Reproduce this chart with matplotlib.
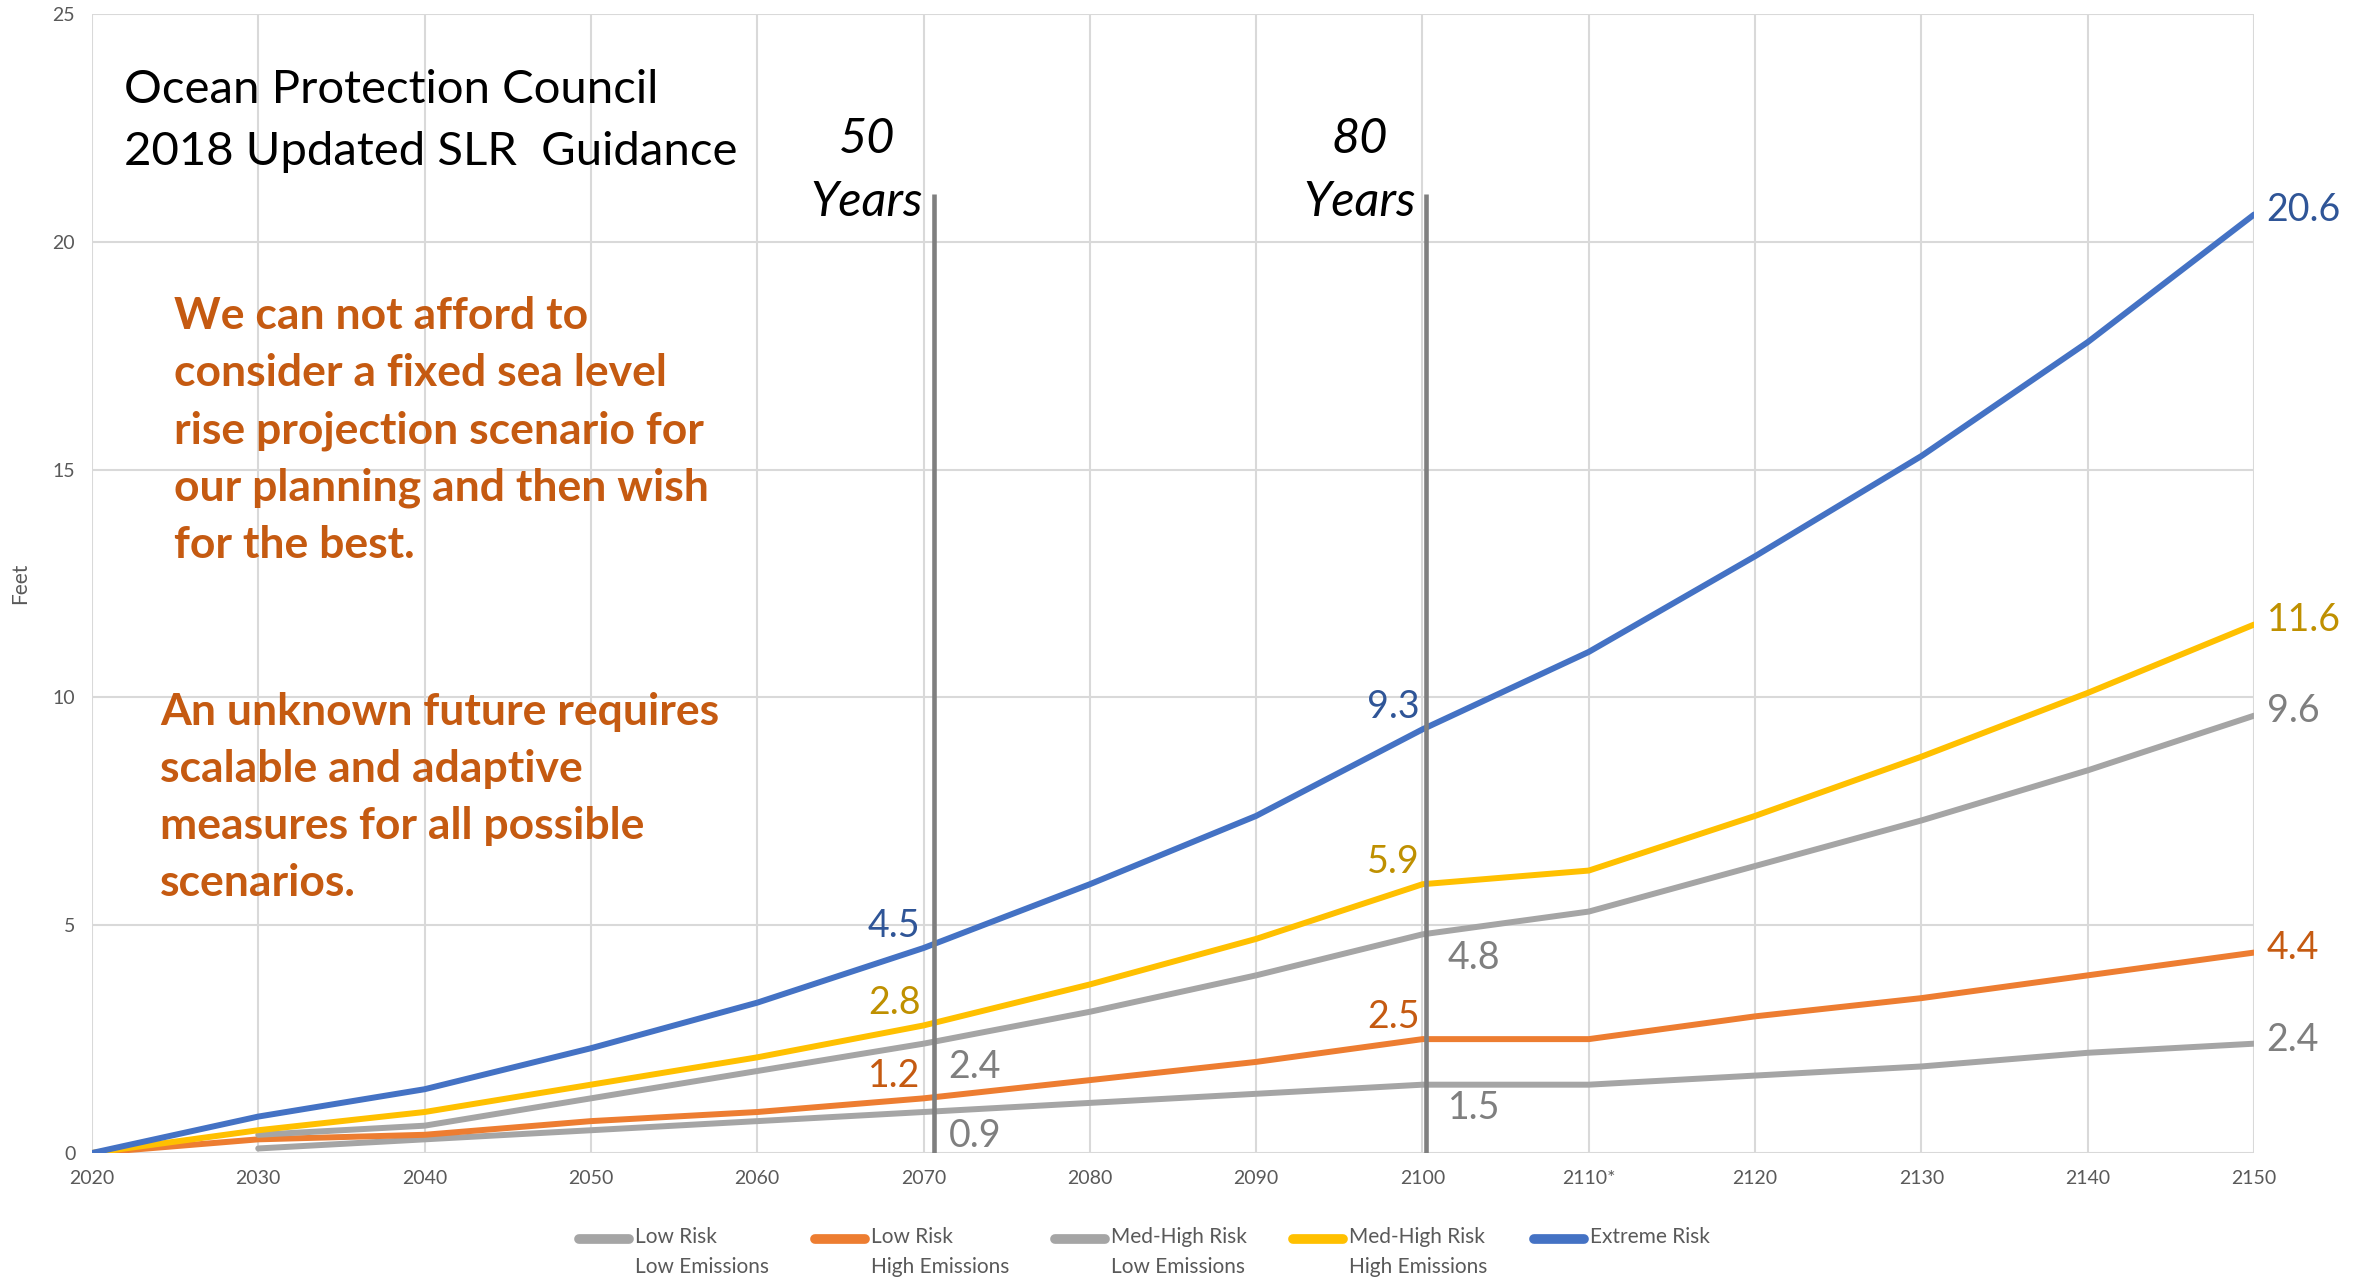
import numpy as np
import matplotlib.pyplot as plt
from matplotlib.lines import Line2D

# Datos (pies de subida del nivel del mar)
years = [2020, 2030, 2040, 2050, 2060, 2070, 2080, 2090, 2100, 2110, 2120, 2130, 2140, 2150]
year_labels = ['2020', '2030', '2040', '2050', '2060', '2070', '2080', '2090', '2100',
               '2110*', '2120', '2130', '2140', '2150']
nan = np.nan
low_low = [nan, 0.1, 0.3, 0.5, 0.7, 0.9, 1.1, 1.3, 1.5, 1.5, 1.7, 1.9, 2.2, 2.4]
low_high = [0, 0.3, 0.4, 0.7, 0.9, 1.2, 1.6, 2.0, 2.5, 2.5, 3.0, 3.4, 3.9, 4.4]
mh_low = [nan, 0.4, 0.6, 1.2, 1.8, 2.4, 3.1, 3.9, 4.8, 5.3, 6.3, 7.3, 8.4, 9.6]
mh_high = [0, 0.5, 0.9, 1.5, 2.1, 2.8, 3.7, 4.7, 5.9, 6.2, 7.4, 8.7, 10.1, 11.6]
extreme = [0, 0.8, 1.4, 2.3, 3.3, 4.5, 5.9, 7.4, 9.3, 11.0, 13.1, 15.3, 17.8, 20.6]

series_names = ['Low Risk\nLow Emissions', 'Low Risk\nHigh Emissions',
                'Med-High Risk\nLow Emissions', 'Med-High Risk\nHigh Emissions', 'Extreme Risk\n ']
series_values = [low_low, low_high, mh_low, mh_high, extreme]
line_colors = ['#A5A5A5', '#ED7D31', '#A5A5A5', '#FFC000', '#4472C4']
label_colors = ['#7F7F7F', '#C55A11', '#7F7F7F', '#BF9000', '#2F5597']
# etiqueta arriba-izquierda (True) o abajo-derecha (False) en 2070 y 2100
label_above = [False, True, False, True, True]

horizons = [2070.6, 2100.2]
horizon_text = ['50\nYears', '80\nYears']

plt.rcParams['font.family'] = ['Lato', 'DejaVu Sans']

fig = plt.figure(figsize=(23.69, 12.79), dpi=100)
ax = fig.add_axes([0.0388, 0.0985, 0.9127, 0.8905])

for vals, col, name in zip(series_values, line_colors, series_names):
    ax.plot(years, vals, color=col, lw=4.3, label=name, zorder=3, solid_capstyle='round')

# Lineas verticales de horizonte
ax.vlines(horizons, 0, 21.05, color='#7F7F7F', lw=3.3, zorder=4)

# Etiquetas de datos
for vals, lc, above in zip(series_values, label_colors, label_above):
    for yr in (2070, 2100):
        i = years.index(yr)
        if above:
            ax.annotate(f'{vals[i]:.1f}', (years[i], vals[i]), xytext=(-2, 16),
                        textcoords='offset points', ha='right', va='center',
                        fontsize=27, color=lc, zorder=5)
        else:
            ax.annotate(f'{vals[i]:.1f}', (years[i], vals[i]), xytext=(18, -17),
                        textcoords='offset points', ha='left', va='center',
                        fontsize=27, color=lc, zorder=5)
    ax.annotate(f'{vals[-1]:.1f}', (years[-1], vals[-1]), xytext=(9, 3),
                textcoords='offset points', ha='left', va='center',
                fontsize=27, color=lc, zorder=5, annotation_clip=False)

# Ejes
ax.set_xlim(2020, 2150)
ax.set_ylim(0, 25)
ax.set_xticks(years)
ax.set_xticklabels(year_labels)
ax.set_yticks([0, 5, 10, 15, 20, 25])
ax.tick_params(length=0, labelsize=14, colors='#595959', pad=12)
ax.grid(True, color='#D9D9D9', lw=1.5, zorder=0)
for s in ax.spines.values():
    s.set_visible(False)
ax.set_ylabel('Feet', fontsize=15, color='#595959', labelpad=16)

# Textos
ax.text(0.0148, 0.9517, 'Ocean Protection Council\n2018 Updated SLR  Guidance',
        transform=ax.transAxes, ha='left', va='top', fontsize=34, color='black',
        linespacing=1.58)
ax.text(0.038, 0.7526, 'We can not afford to\nconsider a fixed sea level\nrise projection scenario for\n'
        'our planning and then wish\nfor the best.',
        transform=ax.transAxes, ha='left', va='top', fontsize=32, fontweight='bold',
        color='#C55A11', linespacing=1.52)
ax.text(0.0315, 0.4052, 'An unknown future requires\nscalable and adaptive\nmeasures for all possible\nscenarios.',
        transform=ax.transAxes, ha='left', va='top', fontsize=32, fontweight='bold',
        color='#C55A11', linespacing=1.52)
for h, t in zip(horizons, horizon_text):
    ax.text(h - 4.0, 20.56, t, ha='center', va='baseline', fontsize=35, style='italic',
            color='black', linespacing=1.54)

# Leyenda
handles = [Line2D([], [], color=c, lw=7, solid_capstyle='round') for c in line_colors]
leg = fig.legend(handles, series_names, loc='center', bbox_to_anchor=(0.483, 0.021), ncol=5,
                 frameon=False, fontsize=15, labelcolor='#595959', handlelength=2.4,
                 handletextpad=0.3, columnspacing=2.2)
for t in leg.get_texts():
    t.set_linespacing(1.62)

# subir cada muestra a la altura de la primera linea del texto
fig.canvas.draw()
fs_px = 15 * fig.dpi / 72
for hl, t in zip(leg.legend_handles, leg.get_texts()):
    bb = t.get_window_extent()
    target = bb.y1 - 0.55 * fs_px
    cur = hl.get_transform().transform((0, hl.get_ydata()[0]))[1]
    hl.set_ydata(np.asarray(hl.get_ydata()) + (target - cur) * 72 / fig.dpi)

fig.savefig('out.png', dpi=100)
